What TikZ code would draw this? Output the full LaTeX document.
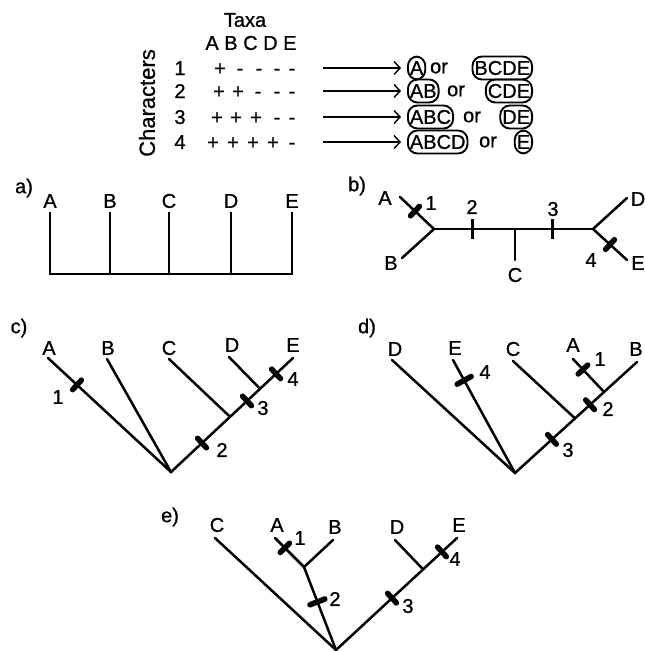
\documentclass[tikz,border=0pt]{standalone}
\usepackage{fontspec}
\setmainfont{Liberation Sans}[FakeBold=0.9]
\usetikzlibrary{calc,arrows.meta}
\newcommand\xbar[4][6.5pt]{\draw[#4] ($(#2)!#1!90:(#3)$) -- ($(#2)!#1!-90:(#3)$);}
\begin{document}
\begin{tikzpicture}[x=1pt,y=-1pt,
  lab/.style={font=\fontsize{20}{24}\selectfont, inner sep=0pt},
  rowtxt/.style={lab, anchor=base},
  tree/.style={line width=2.5pt, line cap=round},
  tk/.style={line width=5.5pt, line cap=round},
  tkthin/.style={line width=3pt},
  grp/.style={draw, line width=1.9pt, rounded corners=9.5pt, inner xsep=2pt, inner ysep=0pt,
    minimum height=23pt, font=\fontsize{20}{24}\selectfont},
  arr/.style={line width=1.4pt, -{Straight Barb[length=6pt,width=13pt,line width=1.4pt]}}]
\useasboundingbox (0,0) rectangle (645,651);
% ---------- table ----------
\node[lab] (taxa) at (245,20) {Taxa};
\node[lab] (hdr) at (251,43) {A B C D E};
\node[lab, font=\fontsize{22}{26}\selectfont, rotate=90] (chars) at (147,103) {Characters};
\foreach \r/\y in {1/75,2/98,3/124,4/149} \node[rowtxt] (n\r) at (180,\y) {\r};
\foreach \x/\s [count=\i] in {220/+,240/-,259/-,277/-,292/-} \node[rowtxt] (pa\i) at (\x,75) {\s};
\foreach \x/\s [count=\i] in {219/+,238/+,258/-,277/-,292/-} \node[rowtxt] (pb\i) at (\x,98) {\s};
\foreach \x/\s [count=\i] in {217/+,236/+,256/+,277/-,292/-} \node[rowtxt] (pc\i) at (\x,124) {\s};
\foreach \x/\s [count=\i] in {213/+,233/+,253/+,273/+,292/-} \node[rowtxt] (pd\i) at (\x,149) {\s};
% groups
\node[grp, anchor=west] (g1a) at (407,68) {A};
\node[lab] (o1) at (439,68) {or};
\node[grp, anchor=east] (g1b) at (533,68) {BCDE};
\node[grp, anchor=west] (g2a) at (407,91) {AB};
\node[lab] (o2) at (456,91) {or};
\node[grp, anchor=east] (g2b) at (533,91) {CDE};
\node[grp, anchor=west] (g3a) at (407,117) {ABC};
\node[lab] (o3) at (472,117) {or};
\node[grp, anchor=east] (g3b) at (533,117) {DE};
\node[grp, anchor=west] (g4a) at (407,142) {ABCD};
\node[lab] (o4) at (488,142) {or};
\node[grp, anchor=east] (g4b) at (533,142) {E};
\foreach \r in {1,2,3,4} {
  \coordinate (s\r) at ([xshift=-84pt]g\r a.west);
  \draw[arr] (s\r) -- ([xshift=-6pt]g\r a.west);
}
% ---------- a ----------
\node[lab] (la) at (24,188) {a)};
\foreach \n/\x in {A/50,B/110,C/169,D/231,E/292} {
  \coordinate (a\n) at (\x,212);
  \coordinate (a\n0) at (\x,274);
  \node[lab] (al\n) at (\x,201) {\n};
}
\draw[tree, line cap=butt, line join=miter] (aA) -- (aA0) -- (aE0) -- (aE);
\foreach \n in {B,C,D} \draw[tree, line cap=butt] (a\n) -- (a\n0);
% ---------- b ----------
\node[lab] (lb) at (357,186) {b)};
\coordinate (bL) at (434,229); \coordinate (bR) at (593,229);
\coordinate (bA) at (400,197); \coordinate (bB) at (402,258);
\coordinate (bCj) at (515,229); \coordinate (bC) at (515,260);
\coordinate (bD) at (627,198); \coordinate (bE) at (627,260);
\draw[tree] (bA) -- (bL) -- (bB);
\draw[tree] (bL) -- (bR);
\draw[tree] (bD) -- (bR) -- (bE);
\draw[tree] (bCj) -- (bC);
\node[lab] (blA) at (385,198) {A};
\node[lab] (blB) at (391,263) {B};
\node[lab] (blC) at (515,275) {C};
\node[lab] (blD) at (638,199) {D};
\node[lab] (blE) at (638,263) {E};
\coordinate (bt1) at ($(bA)!0.44!(bL)$); \xbar{bt1}{bL}{tk}
\coordinate (bt2) at (472,229); \xbar[10pt]{bt2}{bR}{tkthin}
\coordinate (bt3) at (552,229); \xbar[10pt]{bt3}{bR}{tkthin}
\coordinate (bt4) at ($(bR)!0.5!(bE)$); \xbar{bt4}{bE}{tk}
\node[lab] (bn1) at (431,203) {1};
\node[lab] (bn2) at (472,207) {2};
\node[lab] (bn3) at (553,209) {3};
\node[lab] (bn4) at (591,260) {4};
% ---------- c ----------
\node[lab] (lc) at (19,328) {c)};
\coordinate (cR) at (171,472);
\coordinate (cA) at (48,358); \coordinate (cB) at (107,359);
\coordinate (cC) at (169,359); \coordinate (cD) at (229,357); \coordinate (cE) at (293,358);
\coordinate (cJ1) at ($(cR)!0.484!(cE)$); \coordinate (cJ2) at ($(cR)!0.73!(cE)$);
\draw[tree] (cA) -- (cR) -- (cE);
\draw[tree] (cB) -- (cR);
\draw[tree] (cC) -- (cJ1);
\draw[tree] (cD) -- (cJ2);
\foreach \n/\x/\y in {A/49/348,B/108/348,C/169/348,D/232/345,E/293/345} \node[lab] (cl\n) at (\x,\y) {\n};
\coordinate (ct1) at ($(cA)!0.236!(cR)$); \xbar{ct1}{cR}{tk}
\coordinate (ct2) at ($(cR)!0.254!(cE)$); \xbar{ct2}{cE}{tk}
\coordinate (ct3) at ($(cR)!0.623!(cE)$); \xbar{ct3}{cE}{tk}
\coordinate (ct4) at ($(cR)!0.861!(cE)$); \xbar{ct4}{cE}{tk}
\node[lab] (cn1) at (58,397) {1};
\node[lab] (cn2) at (222,450) {2};
\node[lab] (cn3) at (263,408) {3};
\node[lab] (cn4) at (293,379) {4};
% ---------- d ----------
\node[lab] (ld) at (367,328) {d)};
\coordinate (dR) at (515,473);
\coordinate (dD) at (392,360); \coordinate (dE) at (453,360);
\coordinate (dC) at (513,361); \coordinate (dA) at (573,359); \coordinate (dB) at (637,362);
\coordinate (dJ1) at ($(dR)!0.492!(dB)$); \coordinate (dJ2) at ($(dR)!0.73!(dB)$);
\draw[tree] (dD) -- (dR) -- (dB);
\draw[tree] (dE) -- (dR);
\draw[tree] (dC) -- (dJ1);
\draw[tree] (dA) -- (dJ2);
\foreach \n/\x/\y in {D/395/349,E/455/348,C/513/349,A/573/345,B/636/349} \node[lab] (dl\n) at (\x,\y) {\n};
\coordinate (dt1) at ($(dA)!0.32!(dJ2)$); \xbar{dt1}{dJ2}{tk}
\coordinate (dt2) at ($(dR)!0.615!(dB)$); \xbar{dt2}{dB}{tk}
\coordinate (dt3) at ($(dR)!0.303!(dB)$); \xbar{dt3}{dB}{tk}
\coordinate (dt4) at ($(dE)!0.18!(dR)$); \xbar[8pt]{dt4}{dR}{tk}
\node[lab] (dn1) at (600,359) {1};
\node[lab] (dn2) at (608,409) {2};
\node[lab] (dn3) at (568,450) {3};
\node[lab] (dn4) at (485,372) {4};
% ---------- e ----------
\node[lab] (le) at (170,517) {e)};
\coordinate (eR) at (336,650);
\coordinate (eC) at (215,538); \coordinate (eA) at (275,538); \coordinate (eB) at (333,540);
\coordinate (eAB) at (304,567);
\coordinate (eD) at (395,540); \coordinate (eE) at (457,538);
\coordinate (eDE) at ($(eR)!0.72!(eE)$);
\draw[tree] (eC) -- (eR) -- (eE);
\draw[tree] (eAB) -- (eR);
\draw[tree] (eA) -- (eAB) -- (eB);
\draw[tree] (eD) -- (eDE);
\foreach \n/\x/\y in {C/217/525,A/277/525,B/335/527,D/397/527,E/459/525} \node[lab] (el\n) at (\x,\y) {\n};
\coordinate (et1) at ($(eA)!0.34!(eAB)$); \xbar{et1}{eAB}{tk}
\coordinate (et2) at ($(eAB)!0.42!(eR)$); \xbar[8pt]{et2}{eR}{tk}
\coordinate (et3) at ($(eR)!0.463!(eE)$); \xbar{et3}{eE}{tk}
\coordinate (et4) at ($(eR)!0.876!(eE)$); \xbar{et4}{eE}{tk}
\node[lab] (en1) at (300,538) {1};
\node[lab] (en2) at (335,599) {2};
\node[lab] (en3) at (408,606) {3};
\node[lab] (en4) at (455,559) {4};
\end{tikzpicture}
\end{document}
